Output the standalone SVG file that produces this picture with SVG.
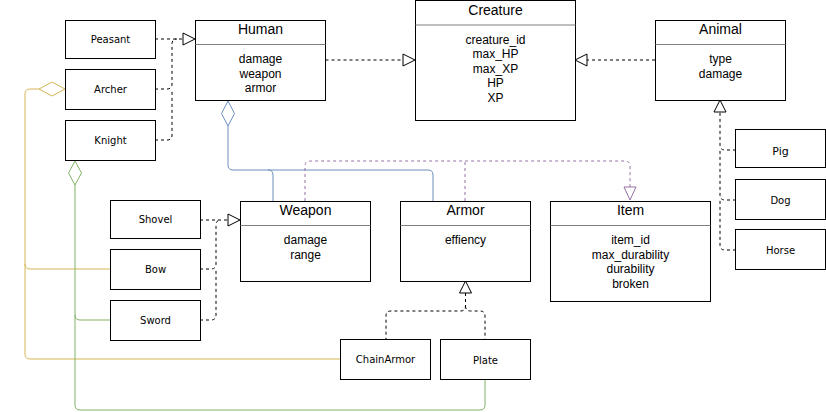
<svg xmlns="http://www.w3.org/2000/svg" width="826" height="412" viewBox="0 0 826 412">
<style>
.box{fill:#fff;stroke:#000;stroke-width:1}
.div{stroke:#808080;stroke-width:1}
.t{font-family:"Liberation Sans",Arial,sans-serif;font-size:14px;text-anchor:middle;fill:#000}
.a{font-family:"Liberation Sans",Arial,sans-serif;font-size:12px;text-anchor:middle;fill:#000}
.l{font-family:"DejaVu Sans",Verdana,sans-serif;font-size:10px;text-anchor:middle;fill:#000}
.d{fill:none;stroke:#000;stroke-width:1;stroke-dasharray:3 3}
.tri{fill:#fff;stroke:#000;stroke-width:1}
.y{fill:none;stroke:#d6b656;stroke-width:1}
.g{fill:none;stroke:#82b366;stroke-width:1}
.b{fill:none;stroke:#6c8ebf;stroke-width:1}
.p{fill:none;stroke:#9673a6;stroke-width:1;stroke-dasharray:3 3}
</style>
<rect width="826" height="412" fill="#fff"/>
<g id="connectors">
<path class="d" d="M325.5,60 H403"/>
<polygon class="tri" points="403,54 415,60 403,66"/>
<path class="d" d="M655,60 H587"/>
<polygon class="tri" points="587,54 575,60 587,66"/>
<path class="d" d="M155,39 H183"/>
<path class="d" d="M155,89 H167 Q172,89 172,84 V44 Q172,39 177,39"/>
<path class="d" d="M155,140 H167 Q172,140 172,135 V89"/>
<polygon class="tri" points="183,33 195,39 183,45"/>
<polygon class="tri" points="714,112 720,100 726,112"/>
<path class="d" d="M736,150 H725 Q720,150 720,145 V112"/>
<path class="d" d="M736,200 H725 Q720,200 720,195 V150"/>
<path class="d" d="M736,250 H725 Q720,250 720,245 V200"/>
<path class="d" d="M200,220 H228"/>
<path class="d" d="M200,269 H211 Q216,269 216,264 V225 Q216,220 221,220"/>
<path class="d" d="M200,320 H211 Q216,320 216,315 V269"/>
<polygon class="tri" points="228,214 240,220 228,226"/>
<path class="d" d="M465.5,293 V306 Q465.5,311 460.5,311 H391 Q386,311 386,316 V339"/>
<path class="d" d="M465.5,306 Q465.5,311 470.5,311 H480 Q485,311 485,316 V340"/>
<polygon class="tri" points="459.5,293 465.5,281 471.5,293"/>
<path class="y" d="M39,89 H30 Q25,89 25,94 V354 Q25,359 30,359 H340"/>
<path class="y" d="M25,264 Q25,269 30,269 H110"/>
<polygon fill="#fff" stroke="#d6b656" points="65,89 52,82 39,89 52,96"/>
<path class="g" d="M75,185 V405 Q75,410 80,410 H480 Q485,410 485,405 V380"/>
<path class="g" d="M75,315 Q75,320 80,320 H110"/>
<polygon fill="#fff" stroke="#82b366" points="75,161 68.5,173 75,185 81.5,173"/>
<path class="b" d="M228,126 V165 Q228,170 233,170 H268 Q273,170 273,175 V201"/>
<path class="b" d="M268,170 H428 Q433,170 433,175 V201"/>
<polygon fill="#fff" stroke="#6c8ebf" points="228,101 221.5,113.5 228,126 234.5,113.5"/>
<path class="p" d="M305,201 V166 Q305,161 310,161 H625 Q630,161 630,166 V187"/>
<path class="p" d="M465,201 V161"/>
<polygon fill="#fff" stroke="#9673a6" points="624,187 630,200 636,187"/>
</g>
<g id="human">
<rect class="box" x="195.5" y="20.5" width="130" height="80"/>
<line class="div" x1="195.5" y1="44.5" x2="325.5" y2="44.5"/>
<text class="t" x="260.5" y="34">Human</text>
<text class="a" x="260.5" y="63">damage</text>
<text class="a" x="260.5" y="77.5">weapon</text>
<text class="a" x="260.5" y="92">armor</text>
</g>
<g id="creature">
<rect class="box" x="415.5" y="0.5" width="160" height="120"/>
<line class="div" x1="415.5" y1="25" x2="575.5" y2="25"/>
<text class="t" x="495.5" y="15">Creature</text>
<text class="a" x="495.5" y="43.5">creature_id</text>
<text class="a" x="495.5" y="58">max_HP</text>
<text class="a" x="495.5" y="72.5">max_XP</text>
<text class="a" x="495.5" y="87">HP</text>
<text class="a" x="495.5" y="101.5">XP</text>
</g>
<g id="animal">
<rect class="box" x="655.5" y="20.5" width="130" height="80"/>
<line class="div" x1="655.5" y1="44.5" x2="785.5" y2="44.5"/>
<text class="t" x="720.5" y="34">Animal</text>
<text class="a" x="720.5" y="63">type</text>
<text class="a" x="720.5" y="77.5">damage</text>
</g>
<g id="weapon">
<rect class="box" x="240.5" y="201.5" width="130" height="80"/>
<line class="div" x1="240.5" y1="225.5" x2="370.5" y2="225.5"/>
<text class="t" x="305.5" y="215">Weapon</text>
<text class="a" x="305.5" y="244">damage</text>
<text class="a" x="305.5" y="258.5">range</text>
</g>
<g id="armor">
<rect class="box" x="400.5" y="201.5" width="130" height="80"/>
<line class="div" x1="400.5" y1="225.5" x2="530.5" y2="225.5"/>
<text class="t" x="465.5" y="215">Armor</text>
<text class="a" x="465.5" y="244">effiency</text>
</g>
<g id="item">
<rect class="box" x="550.5" y="201.5" width="160" height="100"/>
<line class="div" x1="550.5" y1="225.5" x2="710.5" y2="225.5"/>
<text class="t" x="630.5" y="215">Item</text>
<text class="a" x="630.5" y="244">item_id</text>
<text class="a" x="630.5" y="258.5">max_durability</text>
<text class="a" x="630.5" y="273">durability</text>
<text class="a" x="630.5" y="287.5">broken</text>
</g>
<g id="peasant"><rect class="box" x="65.5" y="20.5" width="90" height="38"/><text class="l" x="110.5" y="43">Peasant</text></g>
<g id="archer"><rect class="box" x="65.5" y="69.5" width="90" height="40"/><text class="l" x="110.5" y="93">Archer</text></g>
<g id="knight"><rect class="box" x="65.5" y="120.5" width="90" height="40"/><text class="l" x="110.5" y="144">Knight</text></g>
<g id="shovel"><rect class="box" x="110.5" y="200.5" width="90" height="38"/><text class="l" x="155.5" y="223">Shovel</text></g>
<g id="bow"><rect class="box" x="110.5" y="249.5" width="90" height="40"/><text class="l" x="155.5" y="273">Bow</text></g>
<g id="sword"><rect class="box" x="110.5" y="300.5" width="90" height="40"/><text class="l" x="155.5" y="324">Sword</text></g>
<g id="chainarmor"><rect class="box" x="340.5" y="339.5" width="90" height="40"/><text class="l" x="385.5" y="363">ChainArmor</text></g>
<g id="plate"><rect class="box" x="440.5" y="339.5" width="90" height="40"/><text class="l" x="485.5" y="364">Plate</text></g>
<g id="pig"><rect class="box" x="735.5" y="129.5" width="90" height="38"/><text class="l" x="780.5" y="155" style="font-size:11px">Pig</text></g>
<g id="dog"><rect class="box" x="735.5" y="179.5" width="90" height="40"/><text class="l" x="780.5" y="204">Dog</text></g>
<g id="horse"><rect class="box" x="735.5" y="229.5" width="90" height="40"/><text class="l" x="780.5" y="254">Horse</text></g>
</svg>
